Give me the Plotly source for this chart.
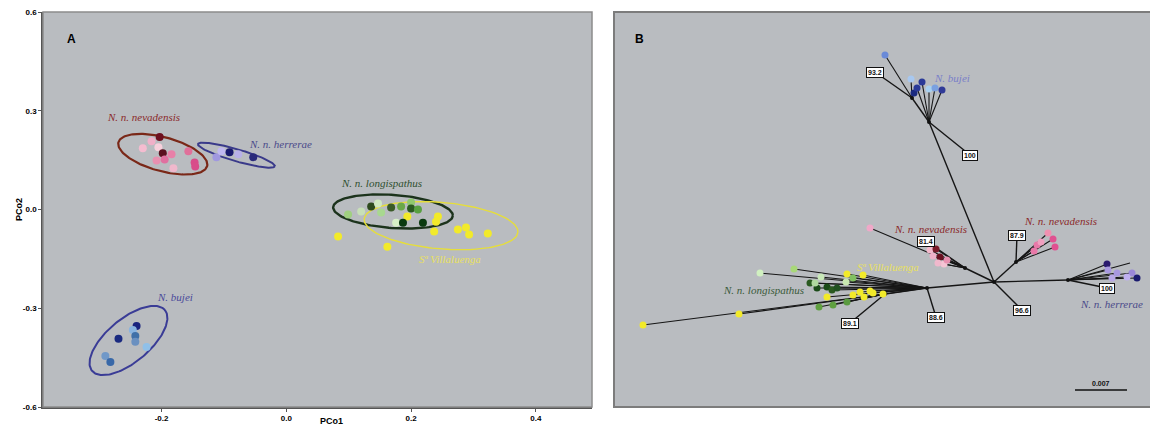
import numpy as np
import plotly.graph_objects as go

W, H = 1150, 437
BG = "#b9bcc0"

# ---------------- Panel A : PCoA data ----------------
nev_x = [-0.203, -0.216, -0.230, -0.205, -0.198, -0.184, -0.157, -0.208, -0.195, -0.181, -0.147, -0.146]
nev_y = [0.220, 0.207, 0.186, 0.189, 0.171, 0.168, 0.177, 0.149, 0.152, 0.125, 0.143, 0.131]
nev_c = ["#6e0f1f", "#f0b0c8", "#f4bcd0", "#f8d0dc", "#5a1020", "#e880a8", "#e0709a",
         "#e890b0", "#e070a0", "#f0b8cc", "#d84d8a", "#d84d8a"]

her_x = [-0.112, -0.104, -0.091, -0.077, -0.053]
her_y = [0.159, 0.177, 0.174, 0.168, 0.159]
her_c = ["#a098e0", "#c0b8f0", "#1a1a6e", "#b8b0e8", "#2a2a7a"]

buj_x = [-0.240, -0.246, -0.269, -0.242, -0.242, -0.224, -0.290, -0.282]
buj_y = [-0.354, -0.366, -0.393, -0.384, -0.402, -0.418, -0.445, -0.463]
buj_c = ["#1a237e", "#8ab4e0", "#1a2a80", "#4070a8", "#6a90c0", "#90c0e8", "#7098c8", "#3868a8"]

lon_x = [0.136, 0.147, 0.120, 0.099, 0.168, 0.184, 0.200, 0.200, 0.211, 0.152, 0.176, 0.187, 0.219]
lon_y = [0.009, 0.018, -0.006, -0.015, 0.006, 0.009, 0.021, 0.003, 0.000, -0.009, -0.040, -0.040, -0.040]
lon_c = ["#2e4a1e", "#d0e8c0", "#c8e0b8", "#a0d080", "#3a5a28", "#6aa848", "#90c870",
         "#2a5a20", "#58a040", "#a8d890", "#d8f0c8", "#0a3a10", "#0a3a10"]

vil_x = [0.194, 0.243, 0.240, 0.237, 0.275, 0.288, 0.293, 0.323, 0.083, 0.162]
vil_y = [-0.021, -0.021, -0.037, -0.067, -0.061, -0.055, -0.076, -0.073, -0.082, -0.113]
VIL_COL = "#f2ea2a"

# ellipses: centre, semi-major vector, semi-minor vector (data units)
ell_names = ["nevadensis", "herrerae", "longispathus", "villaluenga", "bujei"]
ell_cx = [-0.198, -0.080, 0.171, 0.248, -0.253]
ell_cy = [0.168, 0.165, -0.006, -0.049, -0.398]
ell_ux = [0.0711, 0.0616, 0.0959, 0.1232, 0.0584]
ell_uy = [-0.0363, -0.0336, -0.0131, -0.0201, 0.0924]
ell_vx = [-0.0070, -0.0027, -0.0019, -0.0032, 0.0220]
ell_vy = [-0.0500, -0.0176, -0.0502, -0.0705, -0.0504]
ell_col = ["#7a2818", "#3a3a8a", "#1c331c", "#e6de3a", "#3a3c96"]
ell_w = [2.2, 2.0, 2.4, 1.4, 2.0]

labA_text = ["N. n. nevadensis", "N. n. herrerae", "N. n. longispathus", "Sª Villaluenga", "N. bujei"]
labA_x = [-0.229, -0.010, 0.152, 0.262, -0.178]
labA_y = [0.280, 0.198, 0.082, -0.149, -0.265]
labA_col = ["#8b2a2a", "#4a4a8a", "#2f4f2f", "#e8e060", "#4a4a9a"]

# ---------------- Panel B : tree (scaled tree-plane units) ----------------
node_name = ["root", "bujei", "bujei2", "nev1", "nev2", "herr", "long", "long2"]
node_x = [994, 929, 912, 965, 1016, 1068, 927, 885]
node_y = [282, 122, 98, 268, 262, 280, 288, 294]
node_par = [None, 0, 1, 0, 0, 0, 0, 6]

tip_x = [885, 911, 914, 922, 917, 929, 935, 942,
         870, 930, 936, 940, 933, 944, 938, 947,
         1048, 1053, 1055, 1037, 1034, 1041,
         1107, 1108, 1130, 1117, 1132, 1137, 1127, 1112,
         760, 794, 821, 847, 863, 846, 853, 810, 817, 827, 832, 837, 815, 827, 853, 860, 864, 870, 873,
         883, 847, 833, 819, 739, 643]
tip_y = [55, 79, 93, 82, 88, 89, 88, 90,
         228, 250, 249, 257, 256, 264, 263, 260,
         233, 239, 247, 245, 251, 242,
         264, 270, 263, 273, 273, 278, 277, 278,
         273, 269, 277, 274, 275, 282, 278, 283, 288, 287, 290, 288, 283, 297, 295, 292, 297, 291, 293,
         294, 302, 305, 307, 314, 325]
tip_par = [2, 2, 2, 1, 1, 1, 1, 1,
           3, 3, 3, 3, 3, 3, 3, 3,
           4, 4, 4, 4, 4, 4,
           5, 5, 5, 5, 5, 5, 5, 5,
           6, 6, 6, 6, 6, 6, 6, 6, 6, 6, 6, 6, 6, 6, 6, 6, 6, 6, 6,
           7, 7, 7, 7, 7, 7]
Y = VIL_COL
tip_c = ["#6a8ad8", "#a8c8f0", "#1a2a80", "#2a3a98", "#2a3a98", "#a8d0f0", "#7aa0e0", "#303a98",
         "#f0a8c8", "#f4b8cc", "#7a1a2a", "#6a1020", "#f0b0c8", "#f4c4d4", "#f0b8cc", "#e890b0",
         "#f090b0", "#e05090", "#e05090", "#e878a8", "#e878a8", "#f0a0c0",
         "#2a1a6e", "#a898e0", "rgba(0,0,0,0)", "#a898e0", "#9a88d8", "#1a1a6e", "#c0b0f0", "#b8a8e8",
         "#d0f0c0", "#a8d878", "#c8e8b8", Y, Y, "#c8e8b0", "#80c060", "#2a5a20", "#1a4a18", "#1a4a18",
         "#2a5a20", "#205020", "#b0d8a0", Y, Y, Y, Y, Y, Y,
         Y, "#5a9a40", "#60a040", "#60a040", Y, Y]

boot_text = ["93.2", "100", "81.4", "87.9", "100", "96.6", "88.6", "89.1"]
boot_node = [2, 1, 3, 4, 5, 0, 6, 7]
boot_x = [875, 970, 926, 1017, 1107, 1022, 936, 850]
boot_y = [72, 155, 241, 235, 288, 310, 317, 323]

labB_text = ["N. bujei", "N. n. nevadensis", "N. n. nevadensis", "N. n. herrerae",
             "N. n. longispathus", "Sª Villaluenga"]
labB_x = [952, 930, 1060, 1111, 763, 888]
labB_y = [78, 229, 221, 304, 290, 267]
labB_col = ["#7a7fc8", "#8b2a2a", "#8b2a2a", "#4a4a8a", "#3a5a3a", "#e8e060"]

scale_len = 52
scale_label = "0.007"

# ---------------- figure ----------------
fig = go.Figure()

t = np.linspace(0, 2 * np.pi, 160)
for i in range(len(ell_names)):
    ex = ell_cx[i] + ell_ux[i] * np.cos(t) + ell_vx[i] * np.sin(t)
    ey = ell_cy[i] + ell_uy[i] * np.cos(t) + ell_vy[i] * np.sin(t)
    fig.add_trace(go.Scatter(x=ex, y=ey, mode="lines", line=dict(color=ell_col[i], width=ell_w[i]),
                             hoverinfo="skip", showlegend=False, xaxis="x", yaxis="y"))

for xs, ys, cs in [(nev_x, nev_y, nev_c), (her_x, her_y, her_c), (buj_x, buj_y, buj_c),
                   (vil_x, vil_y, [VIL_COL] * len(vil_x)), (lon_x, lon_y, lon_c)]:
    fig.add_trace(go.Scatter(x=xs, y=ys, mode="markers",
                             marker=dict(color=cs, size=8, line=dict(width=0)),
                             showlegend=False, xaxis="x", yaxis="y"))

# tree branches: internal edges
ix, iy = [], []
for i, p in enumerate(node_par):
    if p is None:
        continue
    ix += [node_x[p], node_x[i], None]
    iy += [node_y[p], node_y[i], None]
fig.add_trace(go.Scatter(x=ix, y=iy, mode="lines", line=dict(color="#151515", width=1.4),
                         hoverinfo="skip", showlegend=False, xaxis="x2", yaxis="y2"))
# terminal edges
bx, by = [], []
for i, p in enumerate(tip_par):
    bx += [node_x[p], tip_x[i], None]
    by += [node_y[p], tip_y[i], None]
fig.add_trace(go.Scatter(x=bx, y=by, mode="lines", line=dict(color="#151515", width=1.1),
                         hoverinfo="skip", showlegend=False, xaxis="x2", yaxis="y2"))
# leaders to bootstrap boxes
lx, ly = [], []
for k, n in enumerate(boot_node):
    lx += [node_x[n], boot_x[k], None]
    ly += [node_y[n], boot_y[k], None]
fig.add_trace(go.Scatter(x=lx, y=ly, mode="lines", line=dict(color="#151515", width=1.4),
                         hoverinfo="skip", showlegend=False, xaxis="x2", yaxis="y2"))
# node dots
fig.add_trace(go.Scatter(x=node_x, y=node_y, mode="markers", marker=dict(color="#111", size=4),
                         hoverinfo="skip", showlegend=False, xaxis="x2", yaxis="y2"))
fig.add_trace(go.Scatter(x=tip_x, y=tip_y, mode="markers",
                         marker=dict(color=tip_c, size=7, line=dict(width=0)),
                         showlegend=False, xaxis="x2", yaxis="y2"))
# scale bar
sb_x0 = 1075
fig.add_trace(go.Scatter(x=[sb_x0, sb_x0 + scale_len], y=[390, 390], mode="lines",
                         line=dict(color="#111", width=1.3), hoverinfo="skip",
                         showlegend=False, xaxis="x2", yaxis="y2"))

ann = []
for i in range(len(labA_text)):
    ann.append(dict(x=labA_x[i], y=labA_y[i], xref="x", yref="y", text="<i>" + labA_text[i] + "</i>",
                    showarrow=False, font=dict(family="Liberation Serif", size=11, color=labA_col[i]),
                    xanchor="center", yanchor="middle"))
for i in range(len(labB_text)):
    ann.append(dict(x=labB_x[i], y=labB_y[i], xref="x2", yref="y2", text="<i>" + labB_text[i] + "</i>",
                    showarrow=False, font=dict(family="Liberation Serif", size=11, color=labB_col[i]),
                    xanchor="center", yanchor="middle"))
for k in range(len(boot_text)):
    ann.append(dict(x=boot_x[k], y=boot_y[k], xref="x2", yref="y2", text="<b>" + boot_text[k] + "</b>",
                    showarrow=False, font=dict(family="Liberation Sans", size=7, color="#111"),
                    bgcolor="white", bordercolor="#111", borderwidth=1, borderpad=1))
ann.append(dict(x=sb_x0 + scale_len / 2, y=383, xref="x2", yref="y2", text="<b>" + scale_label + "</b>",
                showarrow=False, font=dict(family="Liberation Sans", size=7, color="#111")))
ann.append(dict(x=65 / W, y=1 - 30 / H, xref="paper", yref="paper", text="<b>A</b>", showarrow=False,
                font=dict(family="Liberation Sans", size=12, color="black")))
ann.append(dict(x=639 / W, y=1 - 30 / H, xref="paper", yref="paper", text="<b>B</b>", showarrow=False,
                font=dict(family="Liberation Sans", size=12, color="black")))
ann.append(dict(x=317.5 / W, y=1 - 428 / H, xref="paper", yref="paper", text="<b>PCo1</b>", showarrow=False,
                font=dict(family="Liberation Sans", size=9, color="black")))
ann.append(dict(x=12 / W, y=1 - 210 / H, xref="paper", yref="paper", text="<b>PCo2</b>", showarrow=False,
                textangle=-90, font=dict(family="Liberation Sans", size=9, color="black")))

dom_y = [1 - 407 / H, 1 - 12 / H]
xa = [43 / W, 592 / W]
xb = [614 / W, 1.0]

shapes = [
    dict(type="rect", xref="paper", yref="paper", x0=xa[0], x1=xa[1], y0=dom_y[0], y1=dom_y[1],
         line=dict(color="#8c8c8c", width=1.5), layer="above"),
    dict(type="rect", xref="paper", yref="paper", x0=xb[0], x1=xb[1] + 0.01, y0=dom_y[0], y1=dom_y[1],
         line=dict(color="#7c7c7c", width=2), layer="above"),
]

tickfont = dict(family="Liberation Sans", size=8, color="black")
fig.update_layout(
    width=W, height=H, margin=dict(l=0, r=0, t=0, b=0),
    paper_bgcolor="white", plot_bgcolor=BG, showlegend=False,
    annotations=ann, shapes=shapes,
    xaxis=dict(domain=xa, range=[-0.39, 0.49], tickvals=[-0.2, 0, 0.2, 0.4],
               ticktext=["<b>-0.2</b>", "<b>0.0</b>", "<b>0.2</b>", "<b>0.4</b>"],
               showgrid=False, zeroline=False, showline=True, linecolor="#555", linewidth=1.5,
               ticks="outside", ticklen=3, tickcolor="#555", tickfont=tickfont, anchor="y",
               automargin=False),
    yaxis=dict(domain=dom_y, range=[-0.6, 0.6], tickvals=[-0.6, -0.3, 0, 0.3, 0.6],
               ticktext=["<b>-0.6</b>", "<b>-0.3</b>", "<b>0.0</b>", "<b>0.3</b>", "<b>0.6</b>"],
               showgrid=False, zeroline=False, showline=True, linecolor="#555", linewidth=1.5,
               ticks="outside", ticklen=3, tickcolor="#555", tickfont=tickfont, anchor="x",
               automargin=False),
    xaxis2=dict(domain=xb, range=[614, 1150], visible=False, anchor="y2"),
    yaxis2=dict(domain=dom_y, range=[407, 12], visible=False, anchor="x2"),
)

fig.write_html("out.html", config={"displayModeBar": False},
               post_script="document.body.style.margin='0';document.body.style.overflow='hidden';")
